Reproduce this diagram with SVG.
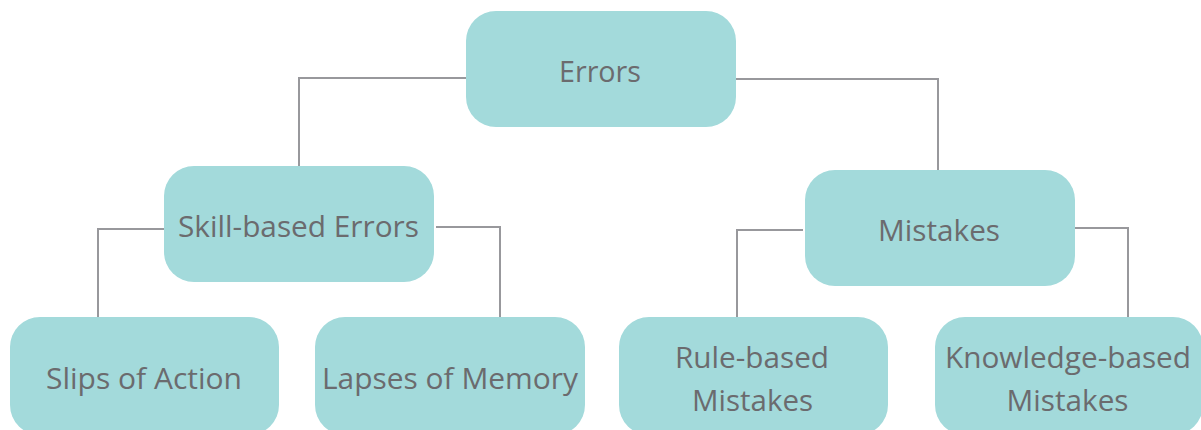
<svg xmlns="http://www.w3.org/2000/svg" width="1201" height="430" viewBox="0 0 1201 430">
  <style>
    .box { fill: #a3dadb; }
    .label { font-family: "Open Sans", "Noto Sans", "Liberation Sans", sans-serif; font-size: 30px; fill: #6b6b6e; text-anchor: middle; }
    .link { fill: none; stroke: #98989c; stroke-width: 2; }
  </style>
  <rect width="1201" height="430" fill="#ffffff"/>

  <!-- tree connectors -->
  <g id="connectors">
    <polyline class="link" points="466,78 299,78 299,166"/>
    <polyline class="link" points="736,79 938,79 938,170"/>
    <polyline class="link" points="164,229 98,229 98,318"/>
    <polyline class="link" points="436,227 500,227 500,318"/>
    <polyline class="link" points="803,230 737,230 737,318"/>
    <polyline class="link" points="1075,228 1128,228 1128,318"/>
  </g>

  <g id="errors">
    <rect class="box" x="466" y="11" width="270" height="116" rx="30"/>
    <text class="label" x="600" y="82" textLength="82" lengthAdjust="spacingAndGlyphs">Errors</text>
  </g>

  <g id="skill-based-errors">
    <rect class="box" x="164" y="166" width="270" height="116" rx="30"/>
    <text class="label" x="298.5" y="237" textLength="241" lengthAdjust="spacingAndGlyphs">Skill-based Errors</text>
  </g>

  <g id="mistakes">
    <rect class="box" x="805" y="170" width="270" height="116" rx="30"/>
    <text class="label" x="939" y="241" textLength="122" lengthAdjust="spacingAndGlyphs">Mistakes</text>
  </g>

  <g id="slips-of-action">
    <rect class="box" x="10" y="317" width="269" height="118" rx="30"/>
    <text class="label" x="144" y="389" textLength="196" lengthAdjust="spacingAndGlyphs">Slips of Action</text>
  </g>

  <g id="lapses-of-memory">
    <rect class="box" x="315" y="317" width="270" height="118" rx="30"/>
    <text class="label" x="450" y="389" textLength="256" lengthAdjust="spacingAndGlyphs">Lapses of Memory</text>
  </g>

  <g id="rule-based-mistakes">
    <rect class="box" x="619" y="317" width="269" height="118" rx="30"/>
    <text class="label" x="752" y="368" textLength="154" lengthAdjust="spacingAndGlyphs">Rule-based</text>
    <text class="label" x="752.5" y="411" textLength="121" lengthAdjust="spacingAndGlyphs">Mistakes</text>
  </g>

  <g id="knowledge-based-mistakes">
    <rect class="box" x="935" y="317" width="268" height="118" rx="30"/>
    <text class="label" x="1068" y="368" textLength="246" lengthAdjust="spacingAndGlyphs">Knowledge-based</text>
    <text class="label" x="1067.5" y="411" textLength="122" lengthAdjust="spacingAndGlyphs">Mistakes</text>
  </g>
</svg>
